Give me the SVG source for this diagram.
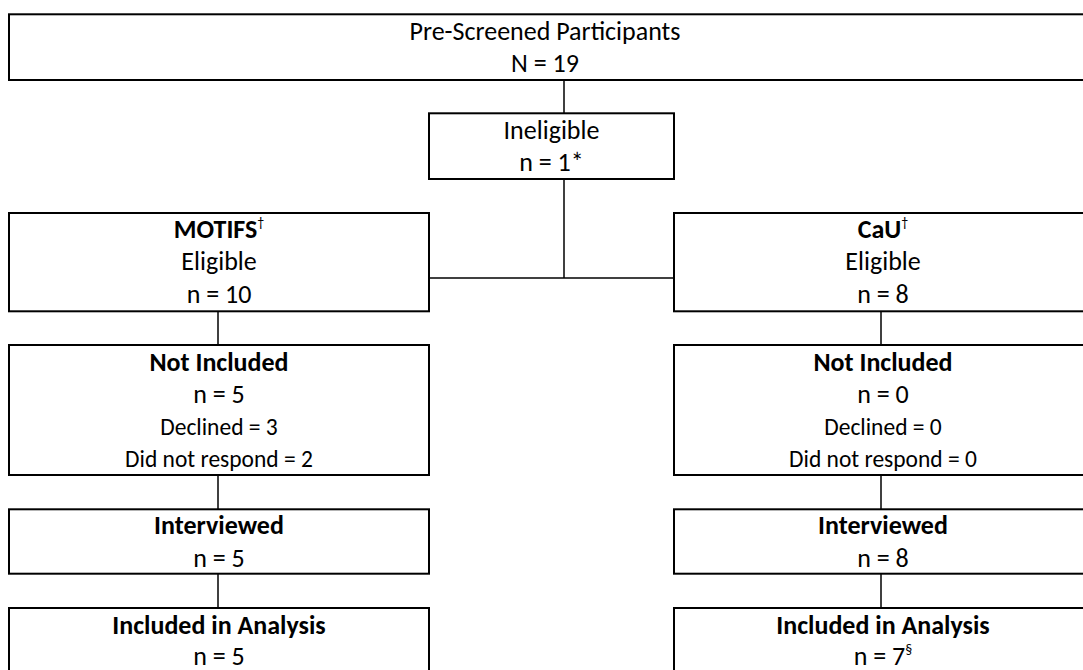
<svg xmlns="http://www.w3.org/2000/svg" width="1083" height="670" viewBox="0 0 1083 670">
<style>
.box{fill:#fff;stroke:#000;stroke-width:2}
.con{stroke:#000;stroke-width:1.5;fill:none}
text{font-family:Carlito,Lato,"Liberation Sans",sans-serif;font-size:26px;fill:#000;text-anchor:middle}
.b{font-weight:bold}
.s{font-size:23.5px}
.sup{font-size:14px}
</style>
<rect width="1083" height="670" fill="#fff"/>
<g id="connectors">
<line class="con" x1="564" y1="80" x2="564" y2="113"/>
<line class="con" x1="564" y1="179" x2="564" y2="278"/>
<line class="con" x1="429" y1="278" x2="674" y2="278"/>
<line class="con" x1="218" y1="311" x2="218" y2="345"/>
<line class="con" x1="218" y1="475" x2="218" y2="509"/>
<line class="con" x1="218" y1="574" x2="218" y2="608"/>
<line class="con" x1="881" y1="311" x2="881" y2="345"/>
<line class="con" x1="881" y1="475" x2="881" y2="509"/>
<line class="con" x1="881" y1="574" x2="881" y2="608"/>
</g>
<g id="prescreened">
<rect class="box" x="9" y="14.3" width="1090" height="65.7"/>
<text x="545" y="40">Pre-Screened Participants</text>
<text x="545" y="72">N = 19</text>
</g>
<g id="ineligible">
<rect class="box" x="429" y="113.3" width="245" height="65.7"/>
<text x="551.5" y="139">Ineligible</text>
<text x="551.5" y="171">n = 1*</text>
</g>
<g id="motifs">
<rect class="box" x="9" y="213" width="420" height="98.3"/>
<text x="219" y="238"><tspan class="b">MOTIFS</tspan><tspan class="sup" dy="-11">†</tspan></text>
<text x="219" y="270">Eligible</text>
<text x="219" y="303">n = 10</text>
</g>
<g id="cau">
<rect class="box" x="674" y="213" width="418" height="98.3"/>
<text x="883" y="238"><tspan class="b">CaU</tspan><tspan class="sup" dy="-11">†</tspan></text>
<text x="883" y="270">Eligible</text>
<text x="883" y="303">n = 8</text>
</g>
<g id="motifs-notincluded">
<rect class="box" x="9" y="345" width="420" height="130"/>
<text class="b" x="219" y="371">Not Included</text>
<text x="219" y="403">n = 5</text>
<text class="s" x="219" y="435">Declined = 3</text>
<text class="s" x="219" y="467">Did not respond = 2</text>
</g>
<g id="cau-notincluded">
<rect class="box" x="674" y="345" width="418" height="130"/>
<text class="b" x="883" y="371">Not Included</text>
<text x="883" y="403">n = 0</text>
<text class="s" x="883" y="435">Declined = 0</text>
<text class="s" x="883" y="467">Did not respond = 0</text>
</g>
<g id="motifs-interviewed">
<rect class="box" x="9" y="509.3" width="420" height="64.4"/>
<text class="b" x="219" y="534">Interviewed</text>
<text x="219" y="567">n = 5</text>
</g>
<g id="cau-interviewed">
<rect class="box" x="674" y="509.3" width="418" height="64.4"/>
<text class="b" x="883" y="534">Interviewed</text>
<text x="883" y="567">n = 8</text>
</g>
<g id="motifs-analysis">
<rect class="box" x="9" y="608" width="420" height="80"/>
<text class="b" x="219" y="634">Included in Analysis</text>
<text x="219" y="665">n = 5</text>
</g>
<g id="cau-analysis">
<rect class="box" x="674" y="608" width="418" height="80"/>
<text class="b" x="883" y="634">Included in Analysis</text>
<text x="883" y="665">n = 7<tspan class="sup" dy="-11">§</tspan></text>
</g>
</svg>
